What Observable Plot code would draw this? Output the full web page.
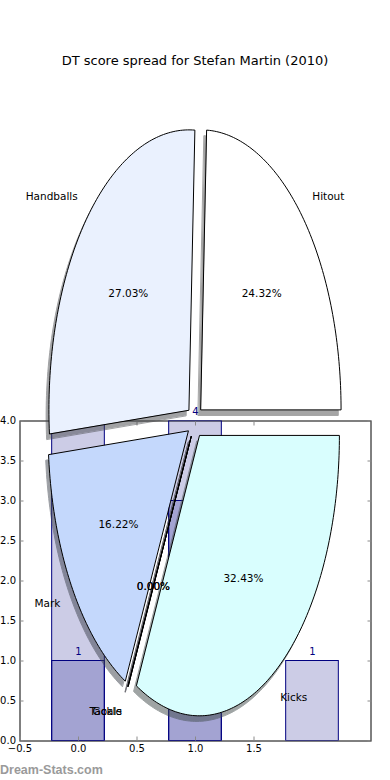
<!DOCTYPE html>
<html><head><meta charset="utf-8">
<script src="https://cdn.jsdelivr.net/npm/d3@7"></script>
<script src="https://cdn.jsdelivr.net/npm/@observablehq/plot@0.6"></script>
<style>
html,body{margin:0;padding:0;background:#fff;}
#wrap{position:relative;width:390px;height:780px;overflow:hidden;font-family:"DejaVu Sans",sans-serif;}
#wrap svg{position:absolute;left:0;top:0;}
#title{position:absolute;left:0;top:52px;width:390px;text-align:center;font-size:13px;line-height:18px;color:#000;font-family:"DejaVu Sans";}
#wm{position:absolute;left:0;top:762px;font-family:"Liberation Sans";font-weight:bold;font-size:12.5px;color:#9a9a9a;line-height:16px;}
</style></head><body>
<div id="wrap"></div>
<script>
// ---- data ----
const titleText = "DT score spread for Stefan Martin (2010)";
const pieLabels = ["Hitout", "Handballs", "Mark", "Tackle", "Goals", "Kicks"];
const pieValues = [9, 10, 6, 0, 0, 12];
const pieColors = ["#ffffff", "#eaf1fe", "#c4d8fc", "#e6e6ff", "#e6e6ff", "#d9fefe"];
const barPositions = [0, 1, 2];
const barValuesA = [1, 3, 1];
const barValuesB = [5, 4, null];
const xTicks = [-0.5, 0, 0.5, 1, 1.5];
const yTicks = [0, 0.5, 1, 1.5, 2, 2.5, 3, 3.5, 4];

// ---- bar layer ----
const barWidth = 0.45;
const barsA = barPositions.map((p, i) => ({pos: p, value: barValuesA[i]})).filter(d => d.value != null);
const barsB = barPositions.map((p, i) => ({pos: p, value: barValuesB[i]})).filter(d => d.value != null);
const allBars = barsA.concat(barsB);
const rectOpts = {x1: d => d.pos - barWidth / 2, x2: d => d.pos + barWidth / 2, y: "value",
  fill: "navy", fillOpacity: 0.2, stroke: "navy", strokeWidth: 1, clip: true};
const fmt = d3.format(".1f");
const tickStyle = {tickSize: -4, tickFormat: () => "", stroke: "#8a8a8a", label: null};
const labelStyle = {tickSize: 0, tickFormat: fmt, fill: "black", fontSize: 10, fontFamily: "DejaVu Sans", label: null};
const barPlot = Plot.plot({
  width: 390, height: 780,
  marginTop: 420.5, marginBottom: 39.5, marginLeft: 19.5, marginRight: 19.5,
  style: {background: "transparent", fontFamily: "DejaVu Sans", fontSize: "10px", overflow: "visible", color: "black"},
  x: {domain: [-0.5, 2.5]},
  y: {domain: [0, 4]},
  marks: [
    Plot.frame({stroke: "black", strokeWidth: 1}),
    Plot.rectY(barsA, rectOpts),
    Plot.rectY(barsB, rectOpts),
    Plot.text(allBars, {x: "pos", y: "value", text: d => String(d.value), dy: -9, fill: "navy", fontSize: 10, fontFamily: "DejaVu Sans"}),
    Plot.axisX({ticks: xTicks, anchor: "bottom", ...tickStyle}),
    Plot.axisX({ticks: xTicks, anchor: "top", ...tickStyle}),
    Plot.axisY({ticks: yTicks, anchor: "left", ...tickStyle}),
    Plot.axisY({ticks: yTicks, anchor: "right", ...tickStyle}),
    Plot.axisX({ticks: xTicks, anchor: "bottom", tickPadding: 4, ...labelStyle}),
    Plot.axisY({ticks: yTicks, anchor: "left", tickPadding: 4, ...labelStyle})
  ]
});

// ---- pie layer ----
const pieCx = 194.5, pieCy = 421, pieRx = 140, pieRy = 280;
const explode = 0.06, shadowOff = 0.02;
const total = d3.sum(pieValues);
const ends = d3.cumsum(pieValues);
const slices = pieLabels.map((label, i) => {
  const a1 = 2 * Math.PI * (ends[i] - pieValues[i]) / total;
  const a2 = 2 * Math.PI * ends[i] / total;
  const m = (a1 + a2) / 2;
  const ox = explode * Math.cos(m), oy = explode * Math.sin(m);
  const steps = Math.max(1, Math.ceil((a2 - a1) / (Math.PI / 180)));
  const pts = [{x: ox, y: oy}];
  for (let k = 0; k <= steps; k++) {
    const a = a1 + (a2 - a1) * k / steps;
    pts.push({x: ox + Math.cos(a), y: oy + Math.sin(a)});
  }
  const c = d3.rgb(pieColors[i]);
  const shadow = d3.rgb(c.r * 0.3, c.g * 0.3, c.b * 0.3).formatHex();
  return {
    label, color: pieColors[i], shadow, pts,
    lx: ox + 1.1 * Math.cos(m), ly: oy + 1.1 * Math.sin(m),
    px: ox + 0.6 * Math.cos(m), py: oy + 0.6 * Math.sin(m),
    pct: d3.format(".2f")(pieValues[i] / total * 100) + "%"
  };
});
const shadowMarks = slices.map(s => Plot.line(s.pts, {
  x: d => d.x - shadowOff, y: d => d.y - shadowOff, curve: "linear-closed",
  fill: s.shadow, stroke: s.shadow, strokeWidth: 1, opacity: 0.5
}));
const wedgeMarks = slices.map(s => Plot.line(s.pts, {
  x: "x", y: "y", curve: "linear-closed", fill: s.color, stroke: "black", strokeWidth: 1
}));
const textOpts = {fontSize: 10.5, fontFamily: "DejaVu Sans", fill: "black"};
const piePlot = Plot.plot({
  width: 390, height: 780,
  marginTop: 0, marginBottom: 0, marginLeft: 0, marginRight: 0,
  style: {background: "transparent", fontFamily: "DejaVu Sans", overflow: "visible"},
  x: {domain: [-pieCx / pieRx, (390 - pieCx) / pieRx], axis: null},
  y: {domain: [-(780 - pieCy) / pieRy, pieCy / pieRy], axis: null},
  marks: [
    ...shadowMarks,
    ...wedgeMarks,
    Plot.text(slices.filter(s => s.lx > 0), {x: "lx", y: "ly", text: "label", textAnchor: "start", ...textOpts}),
    Plot.text(slices.filter(s => s.lx <= 0), {x: "lx", y: "ly", text: "label", textAnchor: "end", ...textOpts}),
    Plot.text(slices, {x: "px", y: "py", text: "pct", textAnchor: "middle", ...textOpts})
  ]
});

const wrap = document.getElementById("wrap");
wrap.appendChild(barPlot);
wrap.appendChild(piePlot);
const t = document.createElement("div"); t.id = "title"; t.textContent = titleText; wrap.appendChild(t);
const w = document.createElement("div"); w.id = "wm"; w.textContent = "Dream-Stats.com"; wrap.appendChild(w);
</script>
</body></html>
